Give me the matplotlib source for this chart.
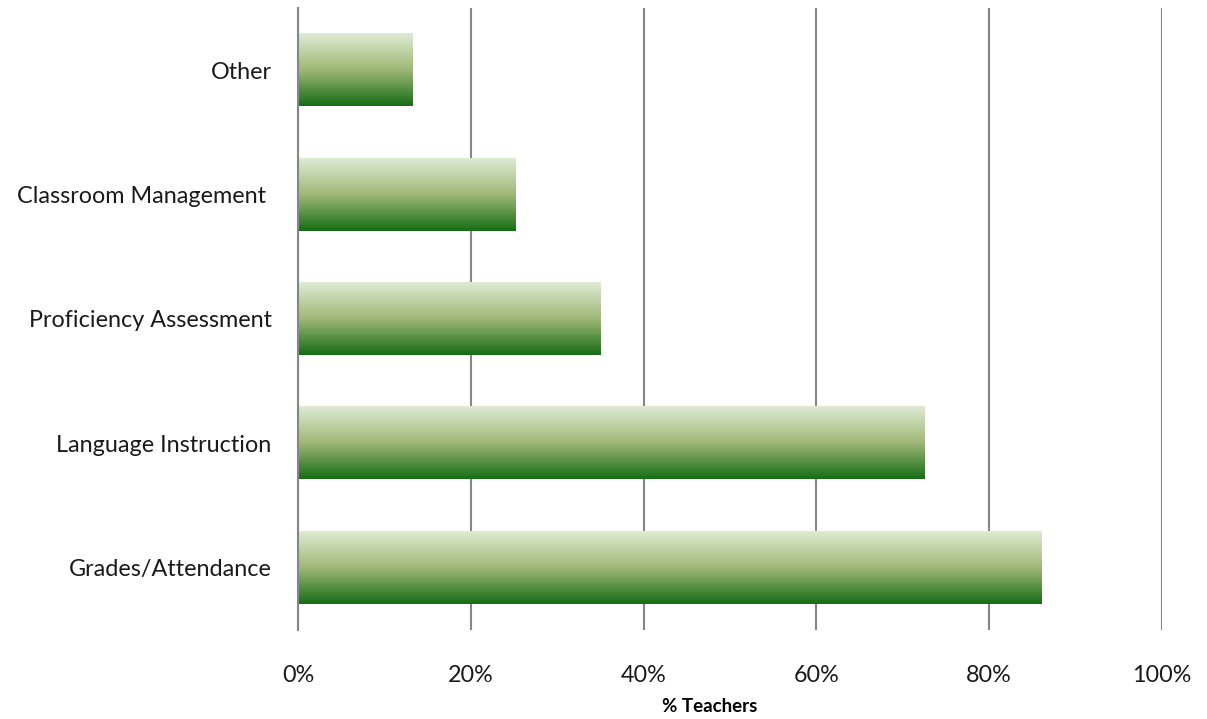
import matplotlib
matplotlib.use("Agg")
import matplotlib.pyplot as plt
import numpy as np
from matplotlib.colors import LinearSegmentedColormap

categories = ["Grades/Attendance", "Language Instruction", "Proficiency Assessment",
              "Classroom Management ", "Other"]
values = [86.0, 72.5, 35.0, 25.2, 13.2]
xticks = [0, 20, 40, 60, 80, 100]
xticklabels = ["0%", "20%", "40%", "60%", "80%", "100%"]

plt.rcParams['font.family'] = ['Lato', 'DejaVu Sans']

fig = plt.figure(figsize=(12.07, 7.19), dpi=100)
ax = fig.add_axes([0.2469, 0.1238, 0.7158, 0.8651])

cmap = LinearSegmentedColormap.from_list(
    "g", [(0.0, "#166d15"), (0.5, "#9fb877"), (1.0, "#dfebd2")])
grad = np.linspace(0, 1, 256).reshape(-1, 1)
h = 0.58
for i, v in enumerate(values):
    ax.imshow(grad, cmap=cmap, aspect="auto", origin="lower",
              extent=[0, v, i - h / 2, i + h / 2], zorder=3)

ax.set_xlim(0, 100)
ax.set_ylim(-0.5, len(categories) - 0.5)
ax.set_yticks(range(len(categories)))
ax.set_yticklabels(categories, fontsize=16.8, color="#1a1a1a")
ax.set_xticks(xticks)
ax.set_xticklabels(xticklabels, fontsize=16.8, color="#1a1a1a")
ax.tick_params(axis="both", length=0)
ax.tick_params(axis="y", pad=19)
ax.tick_params(axis="x", pad=25)
ax.grid(axis="x", color="#868686", linewidth=1.5, zorder=1)
for s in ["top", "right", "bottom"]:
    ax.spines[s].set_visible(False)
ax.spines["left"].set_color("#868686")
ax.spines["left"].set_linewidth(1.5)
ax.spines["left"].set_zorder(4)
ax.set_xlabel("% Teachers", fontsize=13.5, fontweight="bold")
ax.xaxis.set_label_coords((709.5 - 298) / 864, -(707 - 630) / 622)
ax.xaxis.label.set_verticalalignment("center")

fig.savefig("out.png", dpi=100, facecolor="white")
